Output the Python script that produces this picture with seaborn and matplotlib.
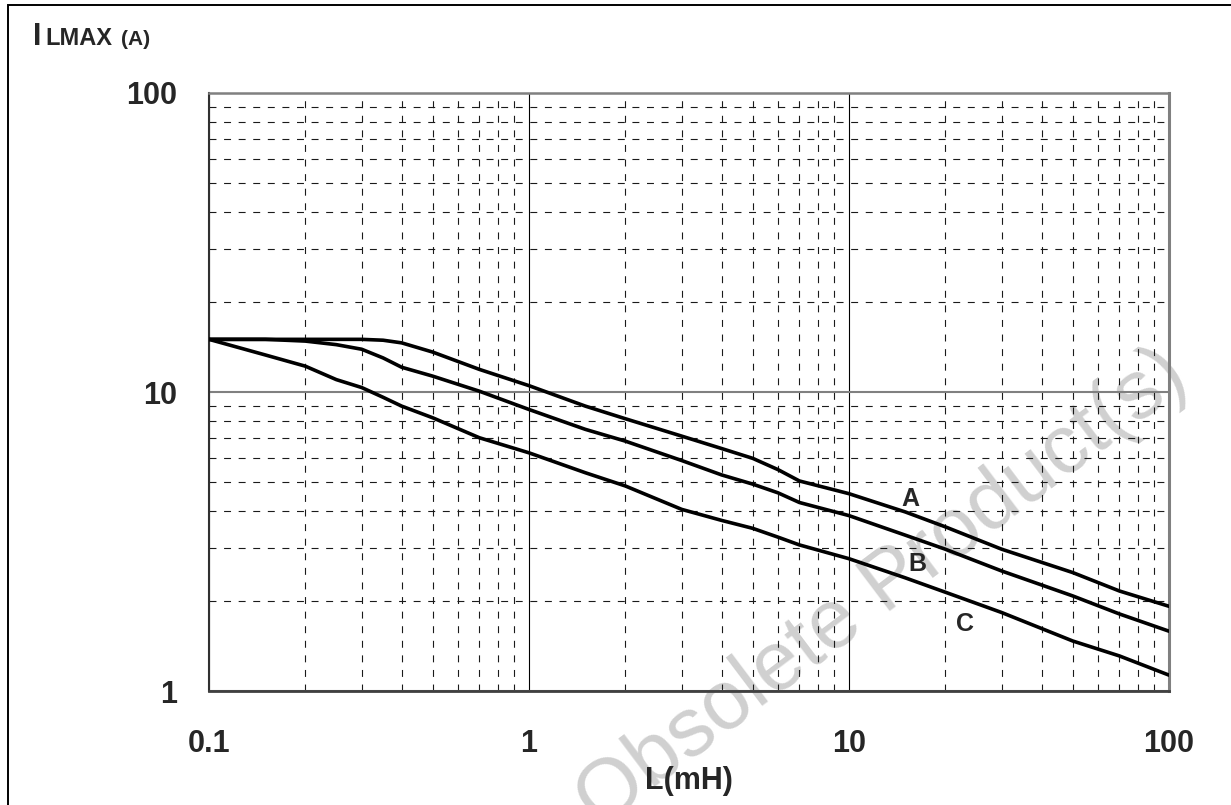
import numpy as np
import pandas as pd
import matplotlib
matplotlib.use("Agg")
import matplotlib.pyplot as plt
import matplotlib.ticker as mticker
from matplotlib.patches import Rectangle
import seaborn as sns

# inductance L (mH) and max current I_LMAX (A)
L_mH = [0.1, 0.15, 0.2, 0.25, 0.3, 0.35, 0.4, 0.5, 0.7, 1, 1.5, 2, 3, 4, 5, 6,
        7, 10, 15, 20, 30, 50, 70, 100]
curve_A = [15, 15, 15, 15, 15, 14.9, 14.6, 13.6, 11.9, 10.5, 8.97, 8.14, 7.12,
           6.47, 6.0, 5.5, 5.04, 4.57, 3.97, 3.54, 2.98, 2.49, 2.16, 1.92]
curve_B = [15, 15, 14.8, 14.4, 13.9, 13.0, 12.1, 11.3, 10.06, 8.74, 7.5, 6.85,
           5.9, 5.28, 4.92, 4.6, 4.27, 3.86, 3.32, 2.98, 2.52, 2.08, 1.81, 1.585]
curve_C = [15, 13.3, 12.2, 11.0, 10.35, 9.6, 8.97, 8.2, 7.03, 6.26, 5.37, 4.85,
           4.05, 3.72, 3.5, 3.27, 3.08, 2.77, 2.39, 2.14, 1.83, 1.47, 1.31, 1.13]

curve_names = ["A", "B", "C"]
label_x = [15.6, 16.3, 23.0]
label_y = [4.15, 2.52, 1.586]

x_ticks = [0.1, 1, 10, 100]
x_ticklabels = ["0.1", "1", "10", "100"]
y_ticks = [1, 10, 100]
y_ticklabels = ["1", "10", "100"]

df = pd.DataFrame({
    "L": L_mH * 3,
    "I": curve_A + curve_B + curve_C,
    "curve": ["A"] * len(L_mH) + ["B"] * len(L_mH) + ["C"] * len(L_mH),
})

sns.set_style("white")
plt.rcParams["font.family"] = ["Liberation Sans", "DejaVu Sans"]
plt.rcParams["lines.scale_dashes"] = False

W, H = 1231, 805
fig = plt.figure(figsize=(W / 100, H / 100), dpi=100, facecolor="white")
ax = fig.add_axes([209 / W, 1 - 691 / H, 960 / W, 598 / H])
ax.set_facecolor("none")

sns.lineplot(data=df, x="L", y="I", hue="curve",
             palette={"A": "black", "B": "black", "C": "black"},
             linewidth=2.6, legend=False, ax=ax, zorder=5)

ax.set_xscale("log")
ax.set_yscale("log")
ax.set_xlim(0.1, 100)
ax.set_ylim(1, 100)

ax.xaxis.set_major_locator(mticker.FixedLocator(x_ticks))
ax.xaxis.set_major_formatter(mticker.FixedFormatter(x_ticklabels))
ax.yaxis.set_major_locator(mticker.FixedLocator(y_ticks))
ax.yaxis.set_major_formatter(mticker.FixedFormatter(y_ticklabels))
ax.xaxis.set_minor_locator(mticker.LogLocator(base=10, subs=np.arange(2, 10)))
ax.yaxis.set_minor_locator(mticker.LogLocator(base=10, subs=np.arange(2, 10)))
ax.xaxis.set_minor_formatter(mticker.NullFormatter())
ax.yaxis.set_minor_formatter(mticker.NullFormatter())

# grid: solid decades, dashed sub-divisions
ax.grid(which="major", axis="x", color="black", linewidth=0.8, linestyle="-")
ax.grid(which="major", axis="y", color="#808080", linewidth=1.5, linestyle="-")
ax.grid(which="minor", axis="both", color="#1a1a1a", linewidth=0.8,
        linestyle=(0, (5, 5.5)))
ax.set_axisbelow(True)

ax.tick_params(axis="x", which="major", direction="out", length=6.5, width=1,
               color="#606060", pad=21, labelsize=22)
ax.tick_params(axis="y", which="major", direction="out", length=8, width=1,
               color="#606060", pad=15, labelsize=22)
ax.tick_params(which="minor", length=0)
for lab in ax.get_xticklabels() + ax.get_yticklabels():
    lab.set_fontweight("bold")

ax.spines["left"].set_color("#303030")
ax.spines["left"].set_linewidth(1.5)
ax.spines["bottom"].set_color("#404040")
ax.spines["bottom"].set_linewidth(2)
ax.spines["top"].set_color("#808080")
ax.spines["top"].set_linewidth(1.8)
ax.spines["right"].set_color("#808080")
ax.spines["right"].set_linewidth(2.2)

ax.set_ylabel("")
ax.set_xlabel("L(mH)", fontsize=22, fontweight="bold")
ax.xaxis.set_label_coords(0.5, -0.125)

for name, lx, ly in zip(curve_names, label_x, label_y):
    ax.text(lx, ly, name, fontsize=18, fontweight="bold", ha="center",
            va="baseline", zorder=6)

# y title: I with LMAX subscript-style
fig.text(33 / W, 1 - 45 / H, "I", fontsize=22, fontweight="bold", va="baseline")
fig.text(45 / W, 1 - 45 / H, "LMAX", fontsize=17, fontweight="bold", va="baseline")
fig.text(120.5 / W, 1 - 45 / H, "(A)", fontsize=15, fontweight="bold", va="baseline")

# watermark
fig.text(1192 / W, 1 - 383 / H, "Obsolete Product(s) - Obsolete Product(s)",
         fontsize=60, color="#d0d0d0", rotation=37, rotation_mode="anchor",
         ha="right", va="baseline", zorder=-1)

# outer frame
fig.patches.append(Rectangle((8 / W, -0.1), 1.2, 1 - 5.5 / H + 0.1,
                             transform=fig.transFigure, fill=False,
                             edgecolor="black", linewidth=1.4))

fig.savefig("out.png", dpi=100, facecolor="white")
